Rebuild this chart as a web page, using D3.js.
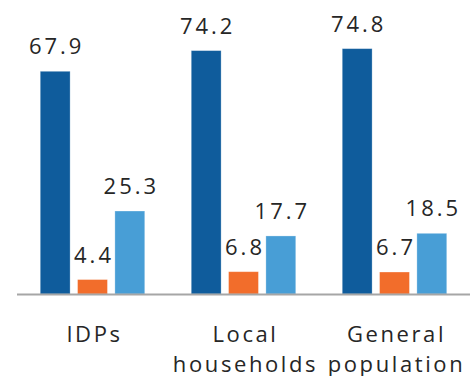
<!DOCTYPE html>
<html>
<head>
<meta charset="utf-8">
<script src="https://cdn.jsdelivr.net/npm/d3@7"></script>
<style>
  html, body { margin: 0; padding: 0; background: #fff; }
  svg { display: block; }
  text { font-family: "Open Sans", sans-serif; fill: #262626; }
</style>
</head>
<body>
<svg id="chart" width="476" height="376"></svg>
<script>
const categories = [["IDPs"], ["Local", "households"], ["General", "population"]];
const seriesNames = ["Series 1", "Series 2", "Series 3"];
const series1 = [67.9, 74.2, 74.8];
const series2 = [4.4, 6.8, 6.7];
const series3 = [25.3, 17.7, 18.5];
const colors = ["#0F5C9C", "#F26D2B", "#489ED6"];

const allSeries = [series1, series2, series3];
const svg = d3.select("#chart");

const baseY = 294;
const groupWidth = 104.5;
const x0 = d3.scaleBand().domain(d3.range(categories.length)).range([17, 470]).paddingInner(0).paddingOuter(0);
const x1 = d3.scaleBand().domain(d3.range(seriesNames.length)).range([0, groupWidth]).paddingInner(0.2).paddingOuter(0);
const y = d3.scaleLinear().domain([0, 80]).range([baseY, baseY - 80 * 3.28]);

const groupOffset = (x0.bandwidth() - groupWidth) / 2;

const groups = svg.selectAll("g.grp")
  .data(categories)
  .join("g")
  .attr("class", "grp")
  .attr("transform", (d, i) => `translate(${x0(i) + groupOffset},0)`);

groups.each(function(cat, ci) {
  const g = d3.select(this);
  allSeries.forEach((s, si) => {
    const v = s[ci];
    g.append("rect")
      .attr("x", x1(si))
      .attr("y", y(v))
      .attr("width", x1.bandwidth())
      .attr("height", baseY - y(v))
      .attr("fill", colors[si])
      .attr("stroke", "rgba(255,255,255,0.35)")
      .attr("stroke-width", 0.8);
    g.append("text")
      .attr("x", x1(si) + x1.bandwidth() / 2 + 1.5)
      .attr("y", y(v) - 17)
      .attr("text-anchor", "middle")
      .style("font-size", "22px")
      .style("letter-spacing", "3px")
      .text(d3.format(".1f")(v));
  });
});

// baseline axis
svg.append("line")
  .attr("x1", 17).attr("x2", 470)
  .attr("y1", baseY + 0.5).attr("y2", baseY + 0.5)
  .attr("stroke", "#A6A6A6").attr("stroke-width", 2);

// category labels
categories.forEach((lines, ci) => {
  const cx = x0(ci) + x0.bandwidth() / 2 + 2;
  const t = svg.append("text")
    .attr("text-anchor", "middle")
    .style("font-size", "22px")
    .style("letter-spacing", "2.6px");
  lines.forEach((ln, li) => {
    t.append("tspan").attr("x", cx).attr("y", 341.5 + li * 30).text(ln);
  });
});
</script>
</body>
</html>
